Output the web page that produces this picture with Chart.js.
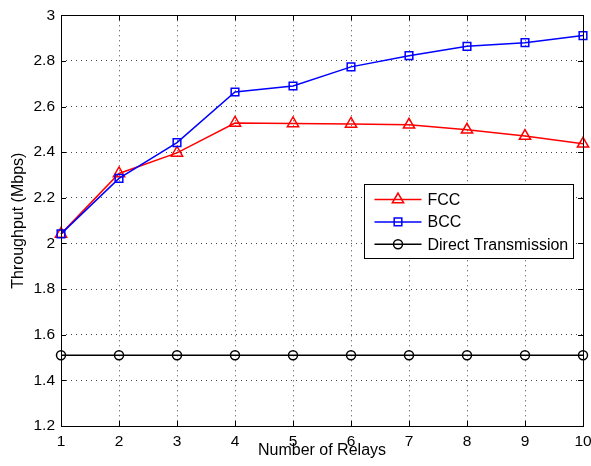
<!DOCTYPE html>
<html>
<head>
<meta charset="utf-8">
<title>Throughput vs Number of Relays</title>
<script src="https://cdn.jsdelivr.net/npm/chart.js@4.4.1/dist/chart.umd.min.js"></script>
<style>
    html, body { margin: 0; padding: 0; background: #fff; }
    #wrap { width: 591px; height: 466px; }
</style>
</head>
<body>
<div id="wrap"><canvas id="chart" width="591" height="466"></canvas></div>
<script>
// Throughput (Mbps) per number of relays
const relays = ['1', '2', '3', '4', '5', '6', '7', '8', '9', '10'];
const fcc = [2.042, 2.307, 2.397, 2.528, 2.526, 2.524, 2.520, 2.498, 2.471, 2.437];
const bcc = [2.042, 2.285, 2.442, 2.664, 2.690, 2.774, 2.823, 2.864, 2.880, 2.911];
const direct = [1.51, 1.51, 1.51, 1.51, 1.51, 1.51, 1.51, 1.51, 1.51, 1.51];
const yTicks = [1.2, 1.4, 1.6, 1.8, 2, 2.2, 2.4, 2.6, 2.8, 3];

const FONT = 'Liberation Sans, Arial, sans-serif';

// Box around the plot plus inward tick marks on all four sides
const axesBox = {
    id: 'axesBox',
    afterDatasetsDraw(chart) {
        const { ctx, chartArea: a, scales: { x, y } } = chart;
        const len = 5;
        ctx.save();
        ctx.strokeStyle = '#000';
        ctx.lineWidth = 1;
        ctx.beginPath();
        x.ticks.forEach((t, i) => {
            const px = Math.round(x.getPixelForTick(i)) + 0.5;
            ctx.moveTo(px, a.bottom); ctx.lineTo(px, a.bottom - len);
            ctx.moveTo(px, a.top); ctx.lineTo(px, a.top + len);
        });
        y.ticks.forEach((t, i) => {
            const py = Math.round(y.getPixelForTick(i)) + 0.5;
            ctx.moveTo(a.left, py); ctx.lineTo(a.left + len, py);
            ctx.moveTo(a.right, py); ctx.lineTo(a.right - len, py);
        });
        ctx.stroke();
        ctx.strokeRect(Math.round(a.left) + 0.5, Math.round(a.top) + 0.5,
            Math.round(a.right - a.left), Math.round(a.bottom - a.top));
        ctx.restore();
    }
};

// Boxed legend inside the plot, near the right edge
const boxLegend = {
    id: 'boxLegend',
    afterDraw(chart) {
        const { ctx, chartArea: a } = chart;
        const sets = chart.data.datasets;
        ctx.save();
        ctx.font = '16px ' + FONT;
        const textW = Math.max(...sets.map(d => ctx.measureText(d.label).width));
        const lineLen = 47, rowH = 22.4;
        const w = Math.round(10 + lineLen + 6 + textW + 5);
        const h = 74;
        const left = Math.round(a.right - 10 - w) + 0.5;
        const top = Math.round(a.top + 169) + 0.5;
        ctx.fillStyle = '#fff';
        ctx.fillRect(left, top, w, h);
        ctx.strokeStyle = '#000';
        ctx.lineWidth = 1;
        ctx.strokeRect(left, top, w, h);

        sets.forEach((d, i) => {
            const cy = top + 15 + i * rowH;
            const x0 = left + 10;
            ctx.strokeStyle = d.borderColor;
            ctx.lineWidth = d.borderWidth;
            ctx.beginPath();
            ctx.moveTo(x0, cy);
            ctx.lineTo(x0 + lineLen, cy);
            ctx.stroke();
            ctx.fillStyle = 'rgba(0,0,0,0)';
            Chart.helpers.drawPoint(ctx, {
                pointStyle: d.pointStyle,
                radius: d.pointRadius,
                borderWidth: d.borderWidth
            }, x0 + lineLen / 2, cy);
            ctx.fillStyle = '#000';
            ctx.textBaseline = 'middle';
            ctx.textAlign = 'left';
            ctx.fillText(d.label, x0 + lineLen + 6, cy + 1);
        });
        ctx.restore();
    }
};

function series(label, data, color, style, radius, order) {
    return {
        label, data, order,
        borderColor: color,
        backgroundColor: 'rgba(0,0,0,0)',
        pointBackgroundColor: 'rgba(0,0,0,0)',
        pointBorderColor: color,
        borderWidth: 1.5,
        pointBorderWidth: 1.5,
        pointStyle: style,
        pointRadius: radius,
        pointHoverRadius: radius,
        tension: 0,
        clip: false
    };
}

new Chart(document.getElementById('chart'), {
    type: 'line',
    data: {
        labels: relays,
        datasets: [
            series('FCC', fcc, '#ff0000', 'triangle', 6.5, 2),
            series('BCC', bcc, '#0000ff', 'rect', 5.4, 1),
            series('Direct Transmission', direct, '#000000', 'circle', 4.5, 0)
        ]
    },
    options: {
        responsive: false,
        animation: false,
        events: [],
        layout: { padding: { top: 15, right: 8, left: 0, bottom: 0 } },
        plugins: {
            legend: { display: false },
            tooltip: { enabled: false }
        },
        scales: {
            x: {
                offset: false,
                grid: { color: '#444', lineWidth: 1, drawTicks: false },
                border: { display: false, dash: [1, 4] },
                ticks: { color: '#000', font: { family: FONT, size: 15.5 }, padding: 6, maxRotation: 0 },
                title: {
                    display: true, text: 'Number of Relays', color: '#000',
                    font: { family: FONT, size: 16 }, padding: { top: 0, bottom: 6 }
                },
                afterFit(scale) {
                    scale.height = 40;
                    // the end labels may overhang the plot edges
                    scale.paddingLeft = 0;
                    scale.paddingRight = 0;
                }
            },
            y: {
                min: 1.2, max: 3,
                afterBuildTicks(scale) { scale.ticks = yTicks.map(v => ({ value: v })); },
                grid: { color: '#444', lineWidth: 1, drawTicks: false },
                border: { display: false, dash: [1, 4] },
                ticks: {
                    color: '#000', font: { family: FONT, size: 15.5 }, padding: 6,
                    callback: v => String(+v.toFixed(1))
                },
                title: {
                    display: true, text: 'Throughput (Mbps)', color: '#000',
                    font: { family: FONT, size: 16 }, padding: { top: 9, bottom: 0 }
                },
                afterFit(scale) { scale.width = 61; }
            }
        }
    },
    plugins: [axesBox, boxLegend]
});
</script>
</body>
</html>
